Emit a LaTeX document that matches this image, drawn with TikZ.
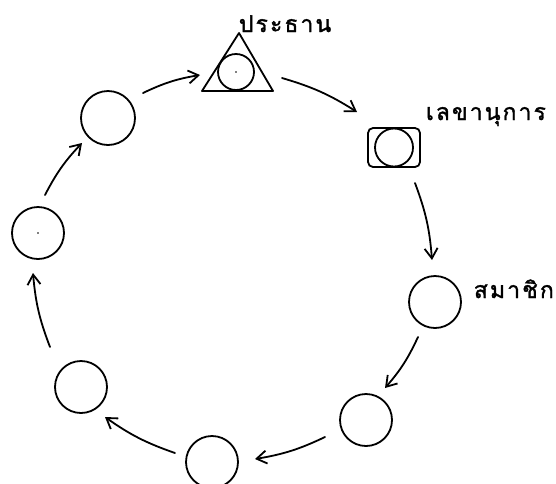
\documentclass[tikz,border=0pt]{standalone}
\usepackage{fontspec}
\newfontfamily\thaifont[Script=Thai,LetterSpace=9,FakeBold=1.5]{Loma}
\usetikzlibrary{arrows.meta}
\begin{document}
\begin{tikzpicture}[x=1pt,y=-1pt,
  line width=1.8pt,
  member/.style={draw,circle,minimum size=52pt,inner sep=0pt},
  lbl/.style={font=\thaifont\fontsize{23}{25}\selectfont,inner sep=0pt,anchor=base west},
  flow/.style={-{Straight Barb[length=10pt,width=13pt,line width=1.8pt]},line cap=round,bend left=8},
  pin/.style={fill,circle,inner sep=0pt,minimum size=1.8pt}]
\useasboundingbox (0,0) rectangle (556,483);
% chairman
\draw[line join=round] (239,33) -- (202,91) -- (273,91) -- cycle;
\node[member,minimum size=36pt] (chair) at (236,72) {};
\node[pin] (chairpin) at (236,72) {};
\node[lbl] (lchair) at (238,32) {ประธาน};
% secretary
\node[draw,rounded corners=5pt,minimum width=52pt,minimum height=39pt,inner sep=0pt] (secbox) at (394,147.5) {};
\node[member,minimum size=38pt] (sec) at (394,147.5) {};
\node[lbl] (lsec) at (425,120) {เลขานุการ};
% members
\node[member] (m1) at (435,302) {};
\node[lbl] (lmem) at (473,298) {สมาชิก};
\node[member] (m2) at (366,420) {};
\node[member] (m3) at (212,462) {};
\node[member] (m4) at (81,387) {};
\node[member] (m5) at (38,233) {};
\node[pin] (m5pin) at (38,233) {};
\node[member,minimum size=54pt] (m6) at (108,118) {};
% arrow end points
\coordinate (a1s) at (143,93);  \coordinate (a1e) at (200,75);
\coordinate (a2s) at (282,78);  \coordinate (a2e) at (357,112);
\coordinate (a3s) at (415,183); \coordinate (a3e) at (432,260);
\coordinate (a4s) at (418,337); \coordinate (a4e) at (385,388);
\coordinate (a5s) at (325,437); \coordinate (a5e) at (255,459);
\coordinate (a6s) at (175,453); \coordinate (a6e) at (105,417);
\coordinate (a7s) at (50,347);  \coordinate (a7e) at (33,273);
\coordinate (a8s) at (45,195);  \coordinate (a8e) at (82,143);
\draw[flow] (a1s) to (a1e);
\draw[flow] (a2s) to (a2e);
\draw[flow] (a3s) to (a3e);
\draw[flow] (a4s) to (a4e);
\draw[flow] (a5s) to (a5e);
\draw[flow] (a6s) to (a6e);
\draw[flow] (a7s) to (a7e);
\draw[flow] (a8s) to (a8e);
\end{tikzpicture}
\end{document}
